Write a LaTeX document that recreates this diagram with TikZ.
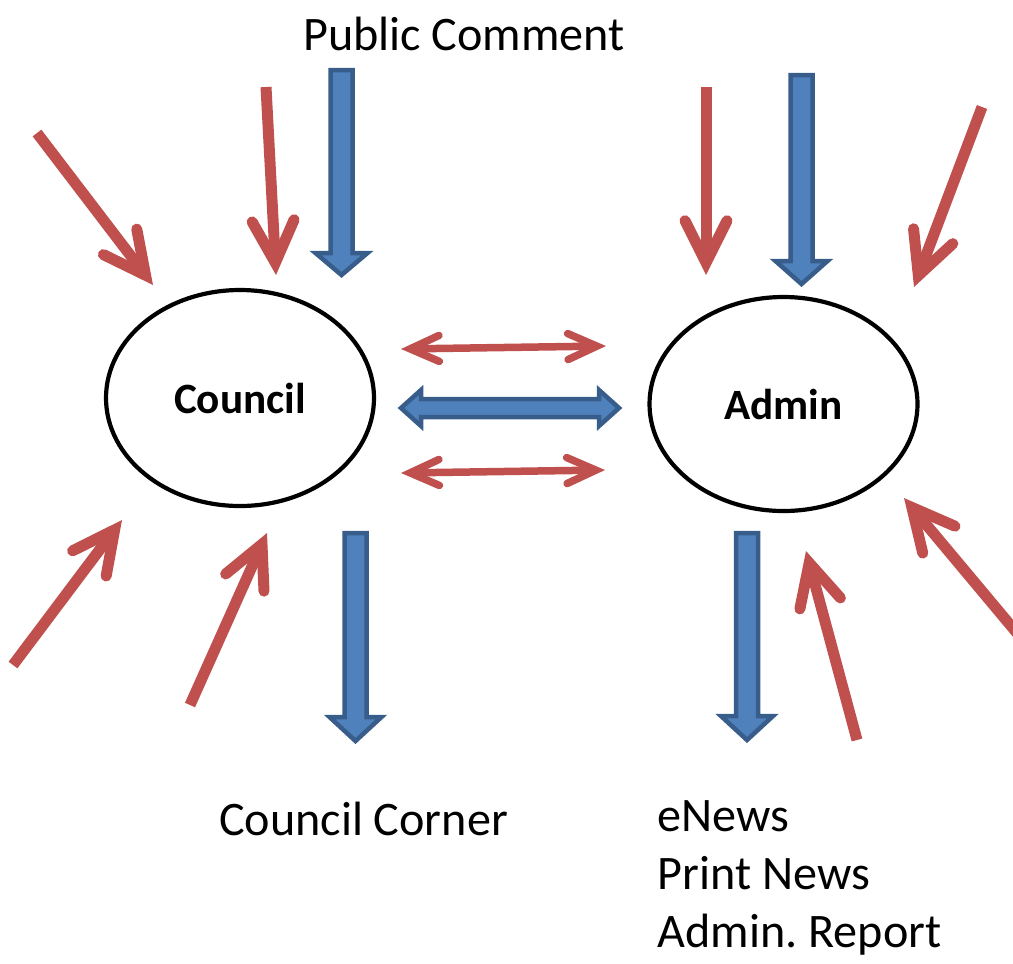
\documentclass[tikz,border=0pt]{standalone}
\usepackage{fontspec}
\setmainfont{Carlito}
\frenchspacing
\usepackage{tikz}
\usetikzlibrary{arrows.meta, positioning, shapes.geometric}
\definecolor{ofred}{RGB}{192,80,77}
\definecolor{ofblue}{RGB}{79,129,189}
\definecolor{ofbluedark}{RGB}{56,93,138}

\tikzset{
  hub/.style={ellipse, draw=black, line width=0.42mm, fill=white,
              inner sep=0pt, outer sep=0pt, font=\fontsize{12.3}{14}\selectfont\bfseries},
  label/.style={inner sep=0pt, font=\fontsize{13.7}{16.5}\selectfont},
  redarrow/.style={draw=ofred, line width=1.1mm, line cap=butt,
    -{Straight Barb[length=4.2mm, width=4.2mm, line cap=round, line join=miter]}},
  redboth/.style={draw=ofred, line width=0.75mm,
    {Straight Barb[length=2.9mm, width=2.6mm, line cap=round, line join=miter]}-{Straight Barb[length=2.9mm, width=2.6mm, line cap=round, line join=miter]}},
  blockarrow/.style={draw=ofbluedark, fill=ofblue, line width=0.45mm, line join=miter}
}

\begin{document}
\begin{tikzpicture}[x=0.1mm, y=-0.1mm]
  \clip (0,0) rectangle (1013,963);

  % Hubs
  \node[hub, minimum width=26.8mm, minimum height=21.6mm] (council) at (240,398) {Council};
  \node[hub, minimum width=26.8mm, minimum height=21.4mm] (admin) at (783.5,404) {Admin};

  % Texts
  \node[label, anchor=base] (pubc) at (464,50) {Public Comment};
  \node[label, anchor=base] (ccorner) at (363.5,835) {Council Corner};
  \node[label, anchor=base west, align=left] (news) at (657,947)
    {eNews\\Print News\\Admin. Report};

  % Blue block arrows (in and out)
  \foreach \cx/\ty/\hy/\py in {341.5/70/253/275, 801.5/75/261/284,
                               355.5/533/717/741, 747/533/716/740}
    \draw[blockarrow] ({\cx-11},\ty) -- ({\cx+11},\ty) -- ({\cx+11},\hy)
      -- ({\cx+26},\hy) -- (\cx,\py) -- ({\cx-26},\hy) -- ({\cx-11},\hy) -- cycle;

  % Blue two-way arrow between hubs
  \draw[blockarrow] (401,408) -- (421,390) -- (421,399) -- (599,399) -- (599,390)
    -- (619,408) -- (599,426) -- (599,417) -- (421,417) -- (421,426) -- cycle;

  % Red two-way arrows
  \coordinate (d1l) at (401,349);
  \coordinate (d1r) at (606,346);
  \coordinate (d2l) at (401,473);
  \coordinate (d2r) at (605,470);
  \draw[redboth] (d1l) -- (d1r);
  \draw[redboth] (d2l) -- (d2r);

  % Red incoming arrows
  \foreach \n/\sx/\sy/\ex/\ey in {1/37/133/153/285, 2/266/87/276/275,
      3/706/87/706/275, 4/982/107/914/287, 5/13/665/122/520,
      6/190/705/267/533, 7/857/740/806/551, 8/1022/639/904/498}{
    \coordinate (r\n s) at (\sx,\sy);
    \coordinate (r\n e) at (\ex,\ey);
    \draw[redarrow] (r\n s) -- (r\n e);
  }
\end{tikzpicture}
\end{document}
